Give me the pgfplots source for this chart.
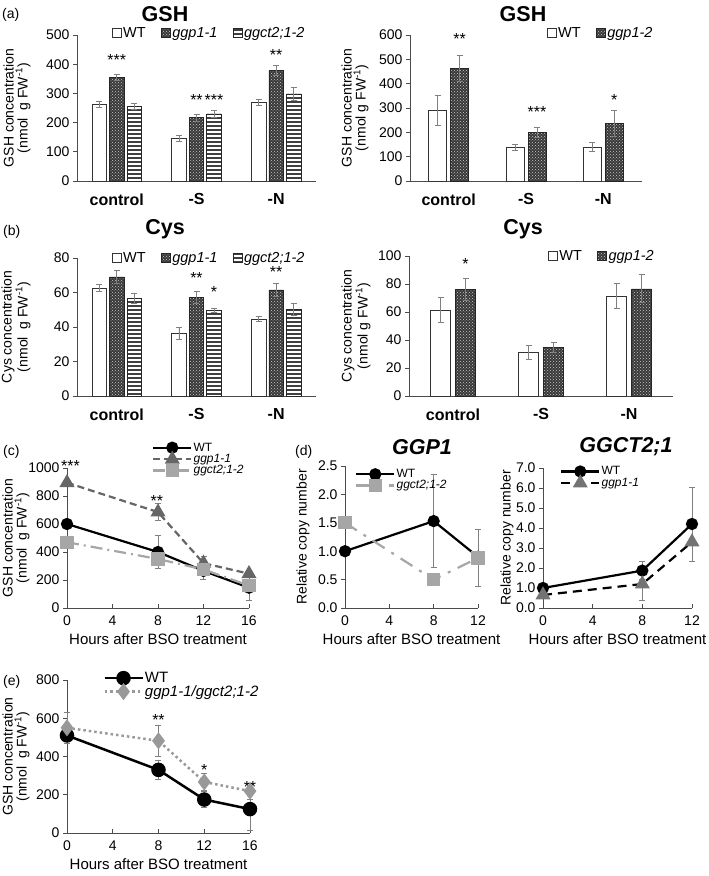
\documentclass[border=0pt]{standalone}
\usepackage{fontspec}
\setmainfont{Liberation Sans}
\usepackage{pgfplots}
\pgfplotsset{compat=1.18}
\usetikzlibrary{patterns}

\pgfdeclarepatternformonly{myhlines}{\pgfqpoint{-1pt}{-1pt}}{\pgfqpoint{5pt}{5pt}}{\pgfqpoint{4pt}{4pt}}{%
  \pgfsetlinewidth{1.3pt}\pgfpathmoveto{\pgfqpoint{-1pt}{2pt}}\pgfpathlineto{\pgfqpoint{5pt}{2pt}}\pgfusepath{stroke}}

\definecolor{axc}{gray}{0.3}
\definecolor{errc}{gray}{0.5}
\definecolor{ggpc}{gray}{0.4}
\definecolor{ggctc}{gray}{0.65}
\definecolor{dblc}{gray}{0.6}

\newcommand{\fs}[1]{\fontsize{#1}{#1}\selectfont}
\newcommand{\st}[1]{{\fs{16}#1}}

\pgfplotsset{
  common/.style={
    scale only axis, clip=false,
    axis x line*=bottom, axis y line*=left,
    axis line style={axc, line width=0.8pt},
    tick style={axc, line width=0.8pt},
    major tick length=4pt,
    tick align=outside,
    /pgf/number format/assume math mode=true,
    /pgf/number format/1000 sep={},
    y tick label style={font=\fs{14}},
    x tick label style={font=\fs{14}},
    error bars/y dir=both, error bars/y explicit,
    error bars/error bar style={errc, line width=0.8pt, solid},
    error bars/error mark options={rotate=90, mark size=3pt, errc, line width=0.8pt, solid},
    ylabel style={font=\fs{14}, align=center, anchor=center},
  },
  ylx/.style={ylabel style={at={([xshift=#1]axis description cs:0,0.5)}}},
  barax/.style={
    common, ybar, ymin=0, xmin=-0.5, xmax=2.5, enlargelimits=false,
    xtick={0,1,2}, xticklabels={control,-S,-N},
    x tick label style={font=\fs{16}\bfseries, yshift=-5pt},
    xtick style={draw=none},
    legend style={draw=none, fill=none, legend columns=-1, font=\fs{14.5}, inner sep=0pt,
      /tikz/every even column/.append style={column sep=14pt}, nodes={inner sep=1.5pt}},
  },
  lineax/.style={
    common, xmin=0, xmax=16, xtick={0,4,8,12,16}, ymin=0,
    xtick style={yshift=4pt},
    xlabel={Hours after BSO treatment},
    xlabel style={font=\fs{15}, yshift=-1pt},
    legend style={draw=none, fill=none, inner sep=0pt, anchor=north west,
      nodes={inner sep=1.2pt}, row sep=-1pt},
    legend cell align=left,
    legend image code/.code={\draw[mark repeat=2,mark phase=2,#1] plot coordinates {(0pt,0pt) (19pt,0pt) (38pt,0pt)};},
  },
  sqlegend/.style={legend image code/.code={\draw[##1, line width=0.6pt] (0pt,-4.5pt) rectangle (9pt,4.5pt);}},
  wtbar/.style={fill=white, draw=black!80, line width=0.6pt, sqlegend},
  ggpbar/.style={fill=black!78, draw=black!85, line width=0.6pt, postaction={pattern=crosshatch dots, pattern color=white!80!black}, sqlegend},
  ggctbar/.style={fill=white, draw=black!85, line width=0.6pt, postaction={pattern=myhlines, pattern color=black!75}, sqlegend},
}

\begin{document}
\begin{tikzpicture}
\path[use as bounding box] (0pt,0pt) rectangle (709pt,876pt);

% ---------- (a) left ----------
\begin{axis}[barax, at={(77pt,695pt)}, anchor=south west, width=239pt, height=146pt,
  ymax=500, ytick={0,100,...,500}, bar width=14.5pt, ybar=3pt,
  ylabel={GSH concentration\\(nmol \ g FW\textsuperscript{-1})}, ylx=-60pt,
  legend style={at={(axis description cs:0.146,1.014)}, anchor=west}]
\addplot[wtbar] coordinates {(0,262) +- (0,10) (1,145) +- (0,10) (2,270) +- (0,10)};
\addplot[ggpbar] coordinates {(0,355) +- (0,10) (1,217) +- (0,12) (2,378) +- (0,17)};
\addplot[ggctbar] coordinates {(0,255) +- (0,10) (1,230) +- (0,13) (2,298) +- (0,22)};
\legend{WT, \textit{ggp1-1}, \textit{ggct2;1-2}}
\node[anchor=base, inner sep=0pt, yshift=-9pt] at (axis cs:0,426) {\st{***}};
\node[anchor=base, inner sep=0pt, yshift=-9pt] at (axis cs:1,289) {\st{**}};
\node[anchor=base, inner sep=0pt, yshift=-9pt, xshift=17.5pt] at (axis cs:1,289) {\st{***}};
\node[anchor=base, inner sep=0pt, yshift=-9pt] at (axis cs:2,443) {\st{**}};
\end{axis}

% ---------- (a) right ----------
\begin{axis}[barax, at={(410pt,695pt)}, anchor=south west, width=232pt, height=146pt,
  ymax=600, ytick={0,100,...,600}, bar width=18pt, ybar=4pt,
  ylabel={GSH concentration\\(nmol g FW\textsuperscript{-1})}, ylx=-55pt,
  legend style={at={(axis description cs:0.59,1.014)}, anchor=west}]
\addplot[wtbar] coordinates {(0,290) +- (0,60) (1,138) +- (0,12) (2,140) +- (0,17)};
\addplot[ggpbar] coordinates {(0,463) +- (0,52) (1,200) +- (0,20) (2,237) +- (0,52)};
\legend{WT, \textit{ggp1-2}}
\node[anchor=base, inner sep=0pt, yshift=-9pt, xshift=11pt] at (axis cs:0,596) {\st{**}};
\node[anchor=base, inner sep=0pt, yshift=-9pt, xshift=11pt] at (axis cs:1,299) {\st{***}};
\node[anchor=base, inner sep=0pt, yshift=-9pt, xshift=11pt] at (axis cs:2,346) {\st{*}};
\end{axis}

% ---------- (b) left ----------
\begin{axis}[barax, at={(77pt,480pt)}, anchor=south west, width=239pt, height=138pt,
  ymax=80, ytick={0,20,...,80}, bar width=14.5pt, ybar=3pt,
  ylabel={Cys concentration\\(nmol \ g FW\textsuperscript{-1})}, ylx=-61pt,
  legend style={at={(axis description cs:0.146,1.0)}, anchor=west}]
\addplot[wtbar] coordinates {(0,62.5) +- (0,2) (1,36.5) +- (0,3.5) (2,44.5) +- (0,1.5)};
\addplot[ggpbar] coordinates {(0,69) +- (0,4) (1,57) +- (0,3.5) (2,61.5) +- (0,4)};
\addplot[ggctbar] coordinates {(0,56.5) +- (0,3) (1,49.5) +- (0,1) (2,50) +- (0,3.5)};
\legend{WT, \textit{ggp1-1}, \textit{ggct2;1-2}}
\node[anchor=base, inner sep=0pt, yshift=-9pt] at (axis cs:1,70.3) {\st{**}};
\node[anchor=base, inner sep=0pt, yshift=-9pt, xshift=17.5pt] at (axis cs:1,62.6) {\st{*}};
\node[anchor=base, inner sep=0pt, yshift=-9pt] at (axis cs:2,74.2) {\st{**}};
\end{axis}

% ---------- (b) right ----------
\begin{axis}[barax, at={(409pt,480pt)}, anchor=south west, width=264pt, height=140pt,
  ymax=100, ytick={0,20,...,100}, bar width=20pt, ybar=5pt,
  ylabel={Cys concentration\\(nmol g FW\textsuperscript{-1})}, ylx=-53pt,
  legend style={at={(axis description cs:0.527,1.0)}, anchor=west}]
\addplot[wtbar] coordinates {(0,61.5) +- (0,9) (1,31) +- (0,5) (2,71.5) +- (0,9)};
\addplot[ggpbar] coordinates {(0,76) +- (0,8) (1,34.5) +- (0,3.5) (2,76.5) +- (0,10)};
\legend{WT, \textit{ggp1-2}}
\node[anchor=base, inner sep=0pt, yshift=-9pt, xshift=12.5pt] at (axis cs:0,97) {\st{*}};
\end{axis}

% ---------- (c) ----------
\begin{axis}[lineax, at={(67pt,268pt)}, anchor=south west, width=182pt, height=140pt,
  ymax=1000, ytick={0,200,...,1000},
  ylabel={GSH concentration\\(nmol \ g FW\textsuperscript{-1})}, ylx=-51pt,
  legend style={at={(axis description cs:0.467,1.19)}, font=\fs{12}}]
\addplot[black, line width=2.2pt, mark=*, mark size=5pt] coordinates {(0,600) +- (0,25) (8,400) +- (0,120) (12,265) +- (0,60) (16,145) +- (0,90)};
\addplot[ggpc, line width=2.2pt, dash pattern=on 7pt off 4pt, mark=triangle*, mark size=6.5pt, mark options={solid}] coordinates {(0,895) +- (0,20) (8,685) +- (0,60) (12,320) +- (0,45) (16,245) +- (0,20)};
\addplot[ggctc, line width=2.2pt, dash pattern=on 12pt off 5pt on 2pt off 5pt, mark=square*, mark size=5.5pt, mark options={solid}] coordinates {(0,470) +- (0,25) (8,350) +- (0,70) (12,275) +- (0,40) (16,160) +- (0,30)};
\legend{WT, \textit{ggp1-1}, \textit{ggct2;1-2}}
\node[anchor=base, inner sep=0pt, yshift=-9pt] at (axis cs:0.3,1036) {\st{***}};
\node[anchor=base, inner sep=0pt, yshift=-9pt] at (axis cs:7.9,786) {\st{**}};
\end{axis}

% ---------- (d) left ----------
\begin{axis}[lineax, at={(345pt,268pt)}, anchor=south west, width=133pt, height=142pt,
  xmax=12, xtick={0,4,8,12}, ymax=2.5, ytick={0,0.5,...,2.5},
  yticklabel style={/pgf/number format/.cd, fixed, fixed zerofill, precision=1},
  ylabel={Relative copy number}, ylx=-42pt,
  legend style={at={(axis description cs:0.075,0.986)}, font=\fs{12}}]
\addplot[black, line width=2.2pt, mark=*, mark size=5pt] coordinates {(0,1.0) +- (0,0) (8,1.53) +- (0,0.82) (12,0.9) +- (0,0.1)};
\addplot[ggctc, line width=2.2pt, dash pattern=on 14pt off 8pt on 3pt off 8pt, mark=square*, mark size=5.5pt, mark options={solid}] coordinates {(0,1.5) +- (0,0.05) (8,0.5) +- (0,0.08) (12,0.88) +- (0,0.5)};
\legend{WT, \textit{ggct2;1-2}}
\end{axis}

% ---------- (d) right ----------
\begin{axis}[lineax, at={(543pt,268pt)}, anchor=south west, width=149pt, height=140pt,
  xmax=12, xtick={0,4,8,12}, ymax=7, ytick={0,1,...,7},
  yticklabel style={/pgf/number format/.cd, fixed, fixed zerofill, precision=1},
  ylabel={Relative copy number}, ylx=-36pt,
  legend style={at={(axis description cs:0.114,1.02)}, font=\fs{12}}]
\addplot[black, line width=2.2pt, mark=*, mark size=5pt] coordinates {(0,1.0) +- (0,0.1) (8,1.87) +- (0,0.45) (12,4.2) +- (0,1.85)};
\addplot[black, line width=2.2pt, dash pattern=on 9pt off 6pt, mark=triangle*, mark size=6.5pt, mark options={solid, fill=black!55, draw=black!55}] coordinates {(0,0.65) +- (0,0.1) (8,1.2) +- (0,0.8) (12,3.3) +- (0,0.95)};
\legend{WT, \textit{ggp1-1}}
\end{axis}

% ---------- (e) ----------
\begin{axis}[lineax, at={(67pt,43pt)}, anchor=south west, width=183pt, height=153pt,
  ymax=800, ytick={0,200,...,800},
  ylabel={GSH concentration\\(nmol \ g FW\textsuperscript{-1})}, ylx=-51pt,
  legend style={at={(axis description cs:0.197,1.06)}, font=\fs{15}}]
\addplot[black, line width=2.5pt, mark=*, mark size=6pt] coordinates {(0,510) +- (0,30) (8,330) +- (0,50) (12,175) +- (0,40) (16,125) +- (0,110)};
\addplot[dblc, line width=2.5pt, dash pattern=on 2.5pt off 3pt, mark=diamond*, mark size=6.5pt, mark options={solid}] coordinates {(0,550) +- (0,80) (8,482) +- (0,82) (12,267) +- (0,45) (16,219) +- (0,42)};
\legend{WT, \textit{ggp1-1/ggct2;1-2}}
\node[anchor=base, inner sep=0pt, yshift=-9pt] at (axis cs:8,608) {\st{**}};
\node[anchor=base, inner sep=0pt, yshift=-9pt] at (axis cs:12,347) {\st{*}};
\node[anchor=base, inner sep=0pt, yshift=-9pt] at (axis cs:16,260) {\st{**}};
\end{axis}

% ---------- panel labels and titles ----------
\node[anchor=west, inner sep=0pt, font=\fs{14}] at (2pt,861pt) {(a)};
\node[anchor=west, inner sep=0pt, font=\fs{14}] at (3pt,644pt) {(b)};
\node[anchor=west, inner sep=0pt, font=\fs{14}] at (3pt,424pt) {(c)};
\node[anchor=west, inner sep=0pt, font=\fs{14}] at (295pt,424pt) {(d)};
\node[anchor=west, inner sep=0pt, font=\fs{14}] at (3pt,194pt) {(e)};
\node[inner sep=0pt, font=\fs{21.5}\bfseries] at (165pt,862pt) {GSH};
\node[inner sep=0pt, font=\fs{21.5}\bfseries] at (523pt,862pt) {GSH};
\node[inner sep=0pt, font=\fs{21.5}\bfseries] at (165pt,647pt) {Cys};
\node[inner sep=0pt, font=\fs{21.5}\bfseries] at (523pt,647pt) {Cys};
\node[inner sep=0pt, font=\fs{21.5}\bfseries\itshape] at (422pt,429pt) {GGP1};
\node[inner sep=0pt, font=\fs{21.5}\bfseries\itshape] at (626pt,429pt) {GGCT2;1};
\end{tikzpicture}
\end{document}
